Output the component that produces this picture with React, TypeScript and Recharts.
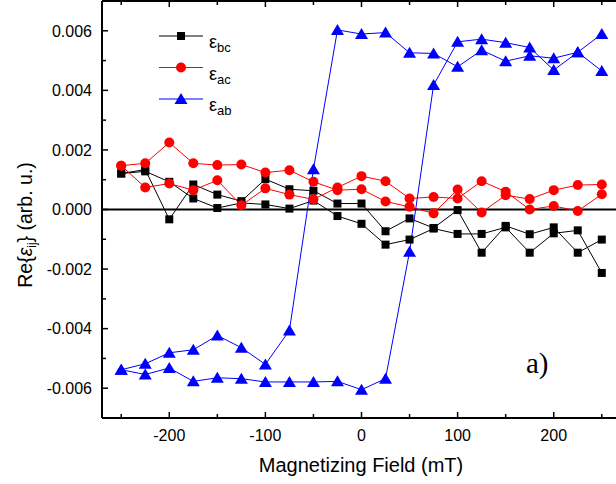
import React from "react";
import { LineChart, Line, XAxis, YAxis, ReferenceLine } from "recharts";

// magnetizing field (mT)
const fields = [-250, -225, -200, -175, -150, -125, -100, -75, -50, -25, 0, 25, 50, 75, 100, 125, 150, 175, 200, 225, 250];

// Re{eps_bc}, two sweeps
const bcSweepA = [0.00121, 0.00134, -0.00033, 0.00084, 0.0005, 0.00028, 0.00102, 0.00068, 0.00063, 0.0002, 0.0002, -0.00073, -0.0003, -0.00062, -0.00002, -0.00145, -0.00055, -0.00083, -0.0006, -0.00145, -0.00101];
const bcSweepB = [0.00121, 0.00128, 0.00093, 0.00037, 0.00005, 0.00022, 0.00017, 0.00003, 0.0003, -0.00022, -0.00048, -0.00118, -0.00101, -0.00064, -0.00082, -0.00082, -0.0006, -0.00145, -0.0008, -0.0007, -0.00213];

// Re{eps_ac}
const acSweepA = [0.00147, 0.00155, 0.00225, 0.00155, 0.00149, 0.00151, 0.00124, 0.00132, 0.00093, 0.00065, 0.00068, 0.00027, 0.00009, -0.00013, 0.00067, -0.0001, 0.00048, 0.00035, 0.00065, 0.00082, 0.00084];
const acSweepB = [0.00147, 0.00074, 0.00087, 0.00065, 0.00098, 0.00014, 0.00071, 0.0005, 0.00034, 0.00074, 0.00112, 0.00095, 0.00037, 0.00042, 0.00037, 0.00095, 0.0006, 0.0, 0.00012, -0.00005, 0.00051];

// Re{eps_ab}
const abSweepA = [-0.00538, -0.00518, -0.00481, -0.00471, -0.00423, -0.00464, -0.0052, -0.00406, 0.00135, 0.00603, 0.00589, 0.00594, 0.00526, 0.00524, 0.00479, 0.00535, 0.00498, 0.00516, 0.00508, 0.00528, 0.00465];
const abSweepB = [-0.00538, -0.00554, -0.00532, -0.00577, -0.00565, -0.00568, -0.00579, -0.00579, -0.00579, -0.00577, -0.00605, -0.00568, -0.00142, 0.00418, 0.00563, 0.00572, 0.0056, 0.00544, 0.00468, 0.00528, 0.00589];

const xTicks = [-250, -200, -150, -100, -50, 0, 50, 100, 150, 200, 250];
const yTicks = [-0.006, -0.005, -0.004, -0.003, -0.002, -0.001, 0, 0.001, 0.002, 0.003, 0.004, 0.005, 0.006];

const rows = fields.map((f, i) => ({
  field: f,
  bcA: bcSweepA[i],
  bcB: bcSweepB[i],
  acA: acSweepA[i],
  acB: acSweepB[i],
  abA: abSweepA[i],
  abB: abSweepB[i],
}));

const SANS = "'Liberation Sans', Arial, sans-serif";
const BLACK = "#000000";
const RED = "#ff0000";
const BLUE = "#0000ff";

const isMajorX = (v: number) => v % 100 === 0;
const isMajorY = (v: number) => Math.round(v * 1000) % 2 === 0;

const LeftTick = (props: any) => {
  const { x, y, payload } = props;
  const major = isMajorY(payload.value);
  return (
    <g>
      <line x1={x} y1={y} x2={x + (major ? 6 : 4)} y2={y} stroke={BLACK} strokeWidth={1.5} />
      {major && (
        <text x={x - 10} y={y} dy="0.36em" textAnchor="end" fontSize={16} fontFamily={SANS} fill={BLACK}>
          {payload.value.toFixed(3)}
        </text>
      )}
    </g>
  );
};

const RightTick = (props: any) => {
  const { x, y, payload } = props;
  const major = isMajorY(payload.value);
  return <line x1={x} y1={y} x2={x - (major ? 6 : 4)} y2={y} stroke={BLACK} strokeWidth={1.5} />;
};

const BottomTick = (props: any) => {
  const { x, y, payload } = props;
  const major = isMajorX(payload.value);
  return (
    <g>
      <line x1={x} y1={y} x2={x} y2={y - (major ? 6 : 4)} stroke={BLACK} strokeWidth={1.5} />
      {major && (
        <text x={x} y={y + 23} textAnchor="middle" fontSize={16} fontFamily={SANS} fill={BLACK}>
          {payload.value}
        </text>
      )}
    </g>
  );
};

const TopTick = (props: any) => {
  const { x, y, payload } = props;
  const major = isMajorX(payload.value);
  return <line x1={x} y1={y} x2={x} y2={y + (major ? 6 : 4)} stroke={BLACK} strokeWidth={1.5} />;
};

const SquareDot = (props: any) => {
  const { cx, cy, key } = props;
  if (cx == null || cy == null) return <g key={key} />;
  return <rect key={key} x={cx - 4} y={cy - 4} width={8} height={8} fill={BLACK} />;
};

const CircleDot = (props: any) => {
  const { cx, cy, key } = props;
  if (cx == null || cy == null) return <g key={key} />;
  return <circle key={key} cx={cx} cy={cy} r={5} fill={RED} />;
};

const TriangleDot = (props: any) => {
  const { cx, cy, key } = props;
  if (cx == null || cy == null) return <g key={key} />;
  return <path key={key} d={`M${cx},${cy - 6}L${cx + 6.5},${cy + 5}L${cx - 6.5},${cy + 5}Z`} fill={BLUE} />;
};

const legendItems = [
  { sub: "bc", color: BLACK, shape: "square" },
  { sub: "ac", color: RED, shape: "circle" },
  { sub: "ab", color: BLUE, shape: "triangle" },
];

function Overlay() {
  return (
    <svg width={630} height={484} style={{ position: "absolute", left: 0, top: 0, pointerEvents: "none" }}>
      {legendItems.map((it, i) => {
        const cy = 36 + i * 31.5;
        return (
          <g key={it.sub}>
            <line x1={159} y1={cy} x2={203} y2={cy} stroke={it.color} strokeWidth={1} />
            {it.shape === "square" && <rect x={177} y={cy - 4} width={8} height={8} fill={it.color} />}
            {it.shape === "circle" && <circle cx={181} cy={cy} r={5} fill={it.color} />}
            {it.shape === "triangle" && (
              <path d={`M181,${cy - 6}L187.5,${cy + 5}L174.5,${cy + 5}Z`} fill={it.color} />
            )}
            <text x={209} y={cy + 12} fontSize={18} fontFamily={SANS} fill={BLACK}>
              ε<tspan fontSize={13} dy={4}>{it.sub}</tspan>
            </text>
          </g>
        );
      })}
      <text x={526} y={373} fontSize={29} fontFamily="'Liberation Serif', 'Times New Roman', serif" fill={BLACK}>
        a)
      </text>
      <text x={361} y={472} textAnchor="middle" fontSize={20} fontFamily={SANS} fill={BLACK}>
        Magnetizing Field (mT)
      </text>
      <text
        transform="translate(32,225) rotate(-90)"
        textAnchor="middle"
        fontSize={19.5}
        fontFamily={SANS}
        fill={BLACK}
      >
        Re{"{"}
        <tspan fontStyle="italic">ε</tspan>
        <tspan fontSize={12} dy={4}>ij</tspan>
        <tspan dy={-4}>{"}"} (arb. u.)</tspan>
      </text>
    </svg>
  );
}

export default function App() {
  return (
    <div
      style={{
        position: "fixed",
        left: 0,
        top: 0,
        width: 616,
        height: 484,
        overflow: "hidden",
        background: "#ffffff",
      }}
    >
      <div style={{ position: "relative", width: 630, height: 484 }}>
        <LineChart width={630} height={484} data={rows} margin={{ top: 0, right: 0, bottom: 0, left: 0 }}>
          <XAxis
            dataKey="field"
            type="number"
            domain={[-270, 270]}
            ticks={xTicks}
            interval={0}
            height={66}
            tickSize={0}
            tickMargin={0}
            tickLine={false}
            axisLine={{ stroke: BLACK, strokeWidth: 2 }}
            tick={<BottomTick />}
          />
          <XAxis
            xAxisId="top"
            orientation="top"
            dataKey="field"
            type="number"
            domain={[-270, 270]}
            ticks={xTicks}
            interval={0}
            height={1}
            tickSize={0}
            tickMargin={0}
            tickLine={false}
            axisLine={{ stroke: BLACK, strokeWidth: 2 }}
            tick={<TopTick />}
          />
          <YAxis
            type="number"
            domain={[-0.007, 0.007]}
            ticks={yTicks}
            interval={0}
            width={102}
            tickSize={0}
            tickMargin={0}
            tickLine={false}
            axisLine={{ stroke: BLACK, strokeWidth: 2 }}
            tick={<LeftTick />}
          />
          <YAxis
            yAxisId="right"
            orientation="right"
            type="number"
            domain={[-0.007, 0.007]}
            ticks={yTicks}
            interval={0}
            width={9}
            tickSize={0}
            tickMargin={0}
            tickLine={false}
            axisLine={{ stroke: BLACK, strokeWidth: 2 }}
            tick={<RightTick />}
          />
          <ReferenceLine y={0} stroke={BLACK} strokeWidth={2} />
          <Line dataKey="bcA" stroke={BLACK} strokeWidth={1} dot={SquareDot} activeDot={false} isAnimationActive={false} />
          <Line dataKey="bcB" stroke={BLACK} strokeWidth={1} dot={SquareDot} activeDot={false} isAnimationActive={false} />
          <Line dataKey="acA" stroke={RED} strokeWidth={1} dot={CircleDot} activeDot={false} isAnimationActive={false} />
          <Line dataKey="acB" stroke={RED} strokeWidth={1} dot={CircleDot} activeDot={false} isAnimationActive={false} />
          <Line dataKey="abA" stroke={BLUE} strokeWidth={1} dot={TriangleDot} activeDot={false} isAnimationActive={false} />
          <Line dataKey="abB" stroke={BLUE} strokeWidth={1} dot={TriangleDot} activeDot={false} isAnimationActive={false} />
        </LineChart>
        <Overlay />
      </div>
    </div>
  );
}
